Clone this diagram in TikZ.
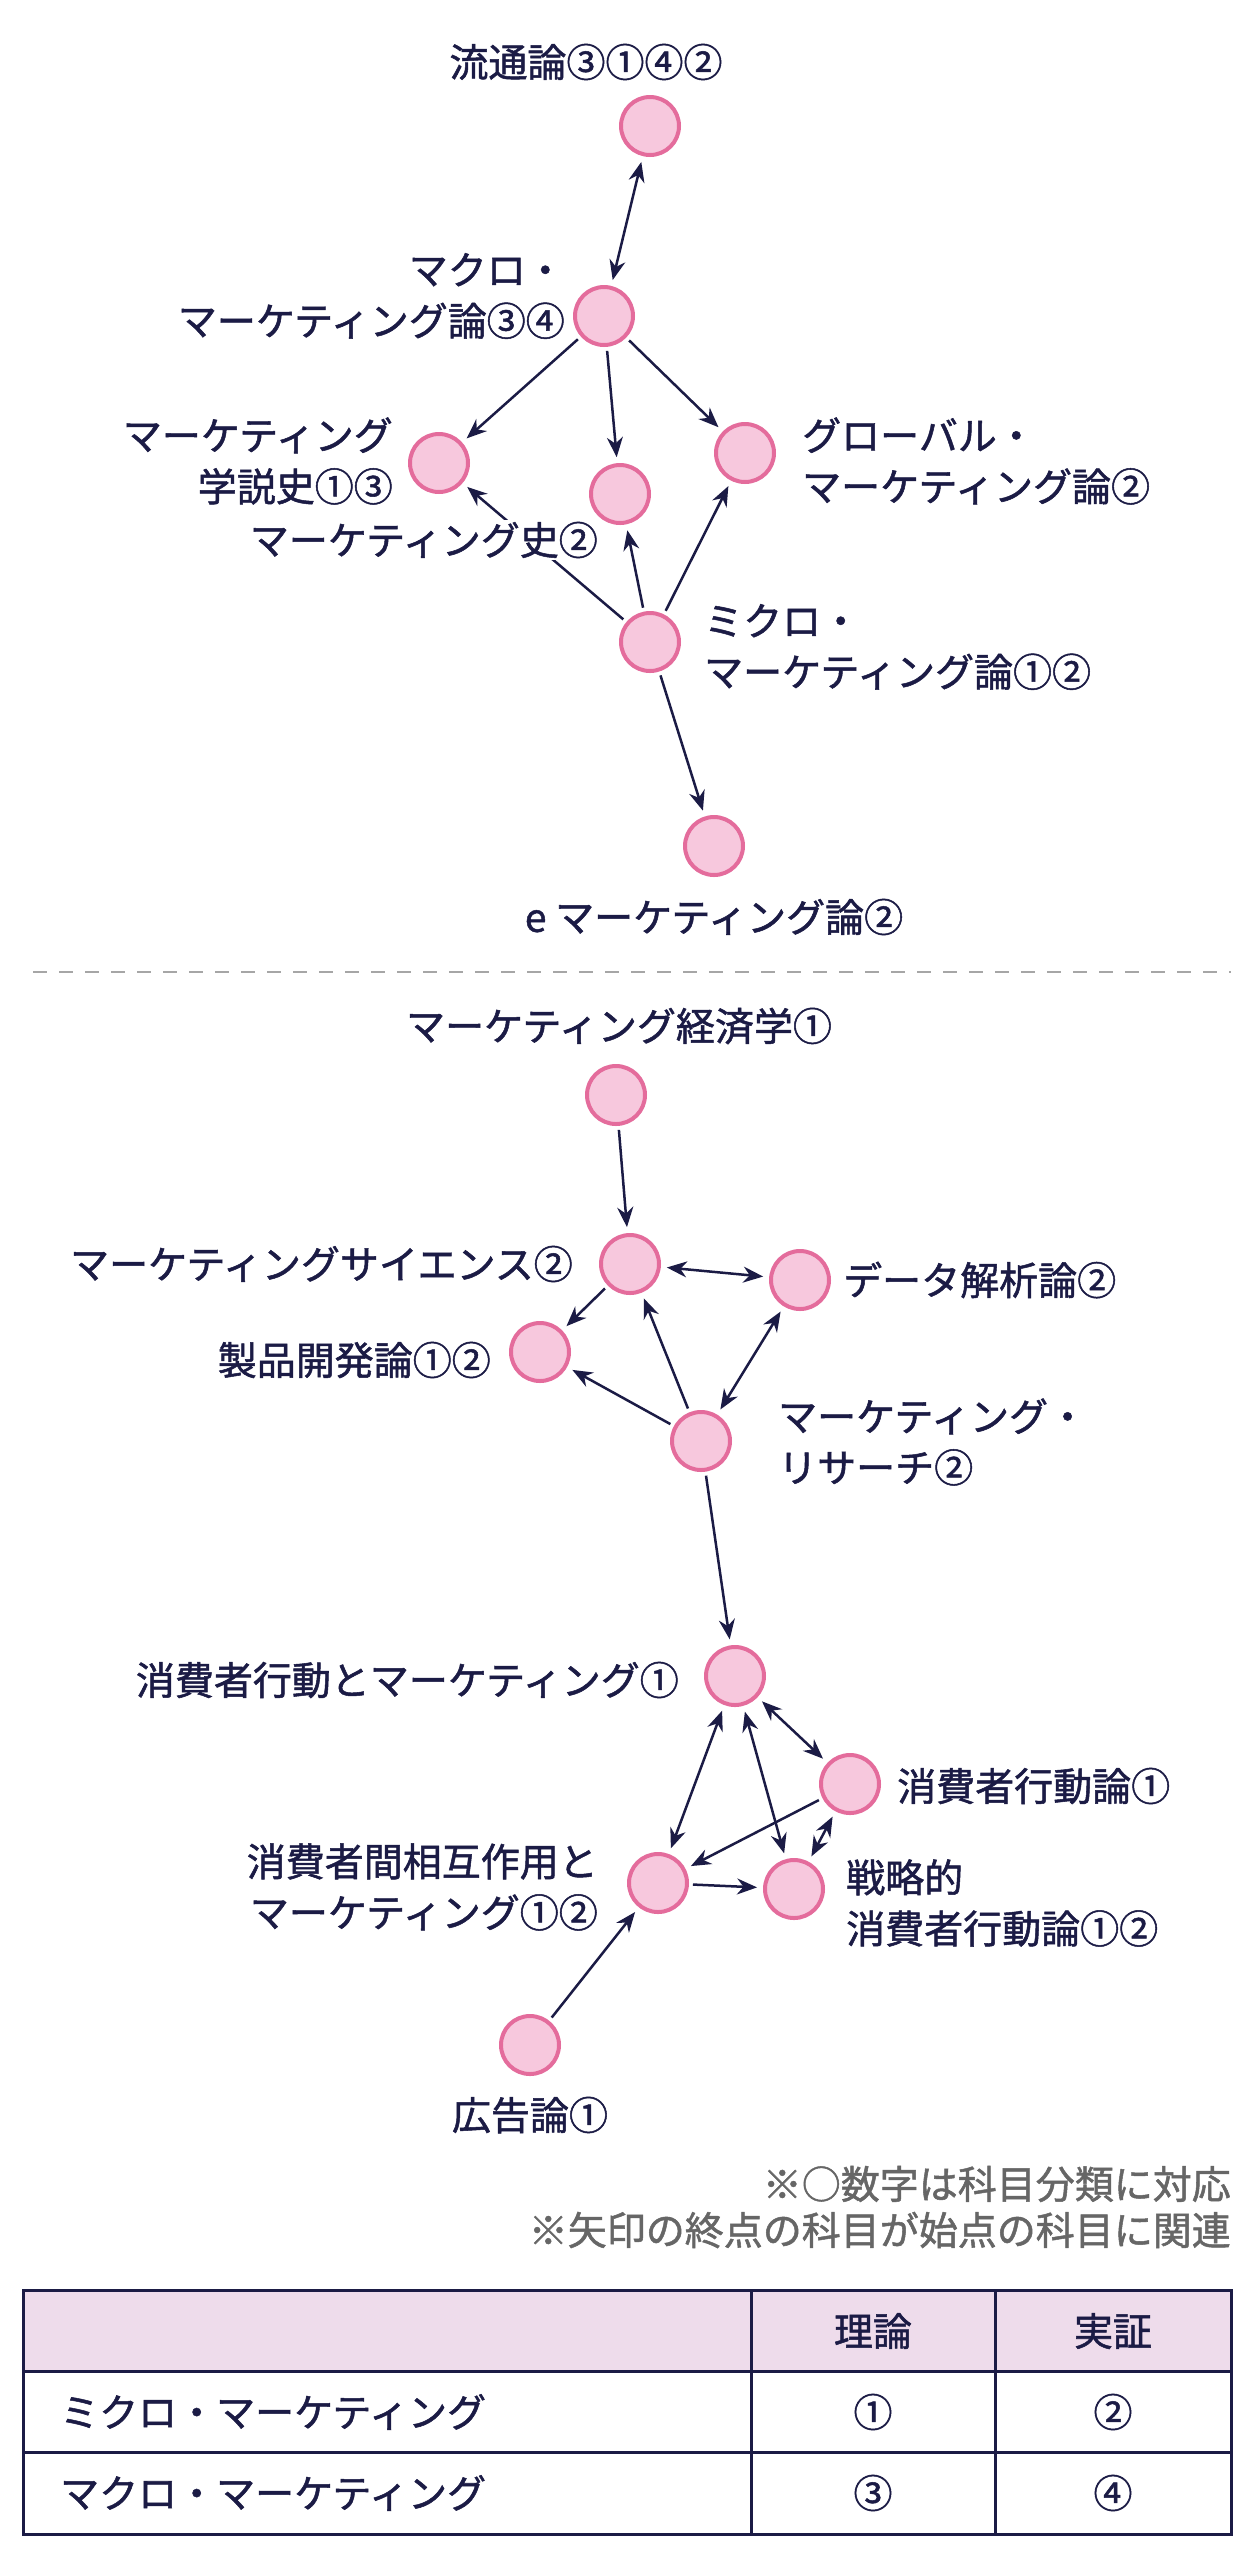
\documentclass[tikz,border=0pt]{standalone}
\usepackage{fontspec}
\setmainfont[FakeBold=1.3]{Noto Sans CJK JP}
\usetikzlibrary{arrows.meta}
\definecolor{nv}{HTML}{1B1B45}
\definecolor{pk}{HTML}{F7C8DD}
\definecolor{pkd}{HTML}{E46C9C}
\definecolor{hd}{HTML}{EEDCEB}
\begin{document}
\begin{tikzpicture}[x=1pt,y=-1pt,
  nd/.style={circle,draw=pkd,fill=pk,line width=4pt,minimum size=58pt,inner sep=0pt},
  lb/.style={font=\fontsize{39}{51}\selectfont,text=nv,inner sep=0pt},
  ar/.style={-{Stealth[length=20pt,width=16pt]},draw=nv,line width=2.5pt,shorten >=6pt,shorten <=4pt},
  br/.style={{Stealth[length=20pt,width=16pt]}-{Stealth[length=20pt,width=16pt]},draw=nv,line width=2.5pt,shorten >=6pt,shorten <=6pt}]
\useasboundingbox[fill=white] (0,0) rectangle (1257,2560);
% top
\node[nd] (ry) at (650,126) {};
\node[nd] (ma) at (604,316) {};
\node[nd] (gs) at (439,463) {};
\node[nd] (sh) at (620,494) {};
\node[nd] (gl) at (745,453) {};
\node[nd] (mi) at (650,642) {};
\node[nd] (em) at (714,846) {};
\draw[br] (ry) -- (ma);
\draw[ar] (ma) -- (gs);
\draw[ar] (ma) -- (sh);
\draw[ar] (ma) -- (gl);
\draw[ar] (mi) -- (gs);
\draw[ar] (mi) -- (sh);
\draw[ar] (mi) -- (gl);
\draw[ar] (mi) -- (em);
\node[lb] (lry) at (586,62) {流通論③①④②};
\node[lb,anchor=east,align=right] (lma) at (565,296) {マクロ・\\マーケティング論③④};
\node[lb,anchor=east,align=right] (lgs) at (393,461) {マーケティング\\学説史①③};
\node[lb,anchor=east,fill=white,inner sep=2pt] (lsh) at (600,540) {マーケティング史②};
\node[lb,anchor=west,align=left] (lgl) at (802,461) {グローバル・\\マーケティング論②};
\node[lb,anchor=west,align=left] (lmi) at (704,647) {ミクロ・\\マーケティング論①②};
\node[lb] (lem) at (714,917) {e マーケティング論②};
\draw[gray!70,line width=2pt,dash pattern=on 14pt off 12pt] (33,972) -- (1231,972);
% bottom
\node[nd] (ke) at (616,1095) {};
\node[lb] (lke) at (619,1026) {マーケティング経済学①};
\node[nd] (sc) at (630,1264) {};
\node[lb,anchor=east] (lsc) at (573,1264) {マーケティングサイエンス②};
\node[nd] (dt) at (800,1280) {};
\node[lb,anchor=west] (ldt) at (843,1280) {データ解析論②};
\node[nd] (sp) at (540,1352) {};
\node[lb,anchor=east] (lsp) at (491,1360) {製品開発論①②};
\node[nd] (rs) at (701,1441) {};
\node[lb,anchor=west,align=left] (lrs) at (778,1442) {マーケティング・\\リサーチ②};
\node[nd] (cm) at (735,1676) {};
\node[lb,anchor=east] (lcm) at (679,1680) {消費者行動とマーケティング①};
\node[nd] (cb) at (850,1784) {};
\node[lb,anchor=west] (lcb) at (897,1786) {消費者行動論①};
\node[nd] (ci) at (658,1883) {};
\node[lb,anchor=east,align=right] (lci) at (598,1887) {消費者間相互作用と\\マーケティング①②};
\node[nd] (st) at (794,1889) {};
\node[lb,anchor=west,align=left] (lst) at (846,1903) {戦略的\\消費者行動論①②};
\node[nd] (ad) at (530,2045) {};
\node[lb] (lad) at (530,2115) {広告論①};
\draw[ar] (ke) -- (sc);
\draw[br] (sc) -- (dt);
\draw[ar] (sc) -- (sp);
\draw[ar] (rs) -- (sp);
\draw[ar] (rs) -- (sc);
\draw[br] (rs) -- (dt);
\draw[ar] (rs) -- (cm);
\draw[br] (cm) -- (ci);
\draw[br] (cm) -- (st);
\draw[br] (cm) -- (cb);
\draw[ar] (cb) -- (ci);
\draw[br] (cb) -- (st);
\draw[ar] (ci) -- (st);
\draw[ar] (ad) -- (ci);
% notes
\node[lb,anchor=east,text=gray!80!black] (n1) at (1231,2184) {※○数字は科目分類に対応};
\node[lb,anchor=east,text=gray!80!black] (n2) at (1231,2230) {※矢印の終点の科目が始点の科目に関連};
% table
\fill[hd] (23,2290) rectangle (1231,2371);
\draw[nv,line width=3pt] (23,2290) rectangle (1231,2534);
\draw[nv,line width=3pt] (23,2371) -- (1231,2371) (23,2452) -- (1231,2452) (751,2290) -- (751,2534) (995,2290) -- (995,2534);
\node[lb] (t1) at (873,2331) {理論};
\node[lb] (t2) at (1113,2331) {実証};
\node[lb,anchor=west] (t3) at (60,2412) {ミクロ・マーケティング};
\node[lb] (t4) at (873,2412) {①};
\node[lb] (t5) at (1113,2412) {②};
\node[lb,anchor=west] (t6) at (60,2493) {マクロ・マーケティング};
\node[lb] (t7) at (873,2493) {③};
\node[lb] (t8) at (1113,2493) {④};
\end{tikzpicture}
\end{document}
